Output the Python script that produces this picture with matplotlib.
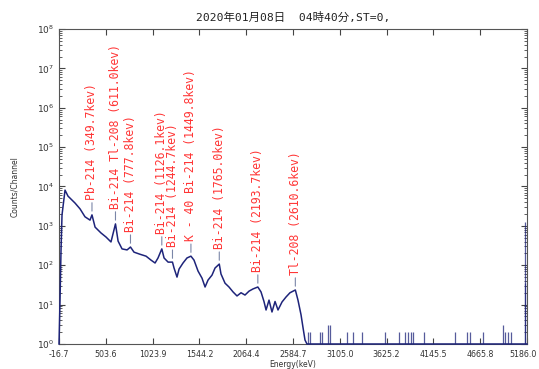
import matplotlib
matplotlib.use('Agg')
import matplotlib.pyplot as plt
import numpy as np

plt.rcParams['font.family'] = ['Noto Sans CJK JP', 'DejaVu Sans']

# gamma spectrum (keV, counts per channel)
energy = [-16.7, -5.6, 5.5, 16.6, 50, 83, 161, 217, 272, 328, 349.7, 384, 450, 506, 561,
          611.0, 640, 684, 740, 777.8, 817, 884, 951, 1006, 1051, 1084, 1126.1, 1151,
          1196, 1244.7, 1262, 1295, 1318, 1362, 1406, 1449.8, 1484, 1529, 1573, 1607,
          1640, 1684, 1718, 1765.0, 1784, 1829, 1873, 1918, 1962, 2007, 2051, 2096, 2140,
          2193.7, 2229, 2262, 2285, 2318, 2351, 2385, 2418, 2463, 2507, 2551, 2610.6,
          2640, 2674, 2696, 2718, 2740, 5186.0]
counts = [1, 13, 240, 1900, 8100, 5700, 3800, 2700, 1700, 1400, 1900, 930, 660, 520, 390,
          1120, 410, 260, 245, 290, 215, 190, 170, 135, 114, 153, 260, 153,
          120, 120, 85, 50, 80, 114, 153, 170, 135, 71, 47, 28,
          42, 56, 85, 107, 60, 35, 28, 21, 16.6, 20, 17.5, 22, 25,
          28, 21, 12, 7.3, 13, 6.5, 12, 7.3, 11.7, 15.6, 20, 23.5,
          13, 5.5, 2.6, 1.26, 1, 1]

# isolated channels above the baseline in the high-energy tail
spike_energy = [2751, 2774, 2885, 2907, 2974, 2996, 3185, 3252, 3352, 3607, 3763, 3830,
                3863, 3896, 3919, 4041, 4386, 4519, 4553, 4697, 4919, 4942, 4975, 5008,
                5160, 5165]
spike_counts = [2, 2, 2, 2, 3, 3, 2, 2, 2, 2, 2, 2,
                2, 2, 2, 2, 2, 2, 2, 2, 3, 2, 2, 2,
                1250, 35]

peak_names = ['Pb-214 (349.7kev)', 'Bi-214 Tl-208 (611.0kev)', 'Bi-214 (777.8kev)',
              'Bi-214 (1126.1kev)', 'Bi-214 (1244.7kev)', 'K - 40 Bi-214 (1449.8kev)',
              'Bi-214 (1765.0kev)', 'Bi-214 (2193.7kev)', 'Tl-208 (2610.6kev)']
peak_energy = [349.7, 611.0, 777.8, 1126.1, 1244.7, 1449.8, 1765.0, 2193.7, 2610.6]

xtick_labels = ['-16.7', '503.6', '1023.9', '1544.2', '2064.4', '2584.7',
                '3105.0', '3625.2', '4145.5', '4665.8', '5186.0']

navy = '#1e247a'

fig = plt.figure(figsize=(5.39, 3.69), dpi=100)
ax = fig.add_axes([0.1095, 0.0678, 0.8682, 0.8536])

ax.plot(energy, counts, color=navy, lw=1.1, zorder=3, clip_on=False)
ax.vlines(spike_energy, 1, spike_counts, color=navy, lw=0.9, alpha=0.75, zorder=3)

ax.set_yscale('log')
ax.set_xlim(-16.7, 5186.0)
ax.set_ylim(1, 1e8)

# peak annotations
for name, e in zip(peak_names, peak_energy):
    c = np.interp(e, energy, counts)
    ax.annotate(name, xy=(e, c * 1.25), xytext=(0, 8), textcoords='offset points',
                rotation=90, ha='center', va='bottom', color='#ff3535',
                fontsize=8.3, family='DejaVu Sans Mono',
                arrowprops=dict(arrowstyle='-', color='#7a86a8', lw=0.8,
                                shrinkA=0, shrinkB=0))

tick_font = dict(fontsize=5.7, color='#333333', family='DejaVu Sans')
ax.set_xticks([float(s) for s in xtick_labels])
# the right-most label is placed by hand so it stays inside the figure
ax.set_xticklabels(xtick_labels[:-1] + [''], **tick_font)
ax.annotate(xtick_labels[-1], xy=(float(xtick_labels[-1]), 0),
            xycoords=('data', 'axes fraction'), xytext=(-2.5, -4),
            textcoords='offset points', ha='center', va='top', **tick_font)

ax.set_yticks([10.0 ** k for k in range(9)])
ax.set_yticklabels([r'$10^{%d}$' % k for k in range(9)], fontsize=6.5, color='#333333')
ax.tick_params(which='both', direction='in', top=True, right=True, color='#444444')
ax.tick_params(which='major', length=4)
ax.tick_params(which='minor', length=2)
ax.tick_params(axis='x', pad=4)
for s in ax.spines.values():
    s.set_color('#555555')

ax.set_xlabel('Energy(keV)', fontsize=5.5, color='#333333', labelpad=1, family='DejaVu Sans')
ax.set_ylabel('Counts/Channel', fontsize=5.5, color='#333333', labelpad=13, family='DejaVu Sans')
ax.set_title('2020年01月08日  04時40分,ST=0,', fontsize=8.2, color='#222222', pad=6,
             family=['DejaVu Sans Mono', 'Noto Sans CJK JP'])

fig.savefig('out.png', dpi=100)
